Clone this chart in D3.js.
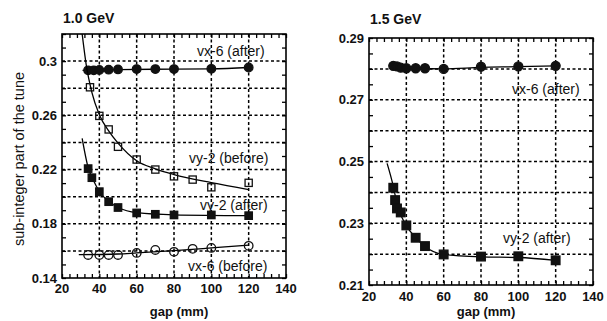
<!DOCTYPE html>
<html>
<head>
<meta charset="utf-8">
<script src="https://cdn.jsdelivr.net/npm/d3@7"></script>
<style>
  html, body { margin: 0; padding: 0; background: #fff; }
  svg { display: block; }
  text { font-family: "Liberation Sans", Arial, sans-serif; fill: #111; }
</style>
</head>
<body>
<svg id="chart" width="607" height="321"></svg>
<script>
// ---------- DATA ----------
const xTicks = [20, 40, 60, 80, 100, 120, 140];
const yTicksLeft = [0.14, 0.18, 0.22, 0.26, 0.3];
const yTicksRight = [0.21, 0.23, 0.25, 0.27, 0.29];
const titleLeft = "1.0 GeV";
const titleRight = "1.5 GeV";
const xLabel = "gap (mm)";
const yLabel = "sub-integer part of the tune";

// 1.0 GeV panel
const gapVx6AfterL = [34, 37, 40, 45, 50, 60, 70, 80, 100, 120];
const vx6AfterL = [0.2932, 0.2932, 0.2934, 0.2937, 0.2939, 0.2941, 0.2941, 0.2941, 0.2943, 0.2953];
const fitVx6AfterL = [[31, 0.2931], [50, 0.2937], [80, 0.2941], [100, 0.2943], [120, 0.2953]];

const gapVy2BeforeL = [35, 40, 45, 50, 60, 70, 80, 90, 100, 120];
const vy2BeforeL = [0.2807, 0.2596, 0.2496, 0.2368, 0.2274, 0.22, 0.215, 0.2126, 0.2069, 0.2102];
const fitVy2BeforeL = [[30.8, 0.32], [33, 0.297], [36, 0.277], [40, 0.2605], [45, 0.2485], [50, 0.2395], [60, 0.2265], [70, 0.2205], [80, 0.2163], [100, 0.2103], [120, 0.2052]];

const gapVy2AfterL = [34, 36, 40, 45, 50, 60, 70, 80, 100, 120];
const vy2AfterL = [0.2207, 0.214, 0.2037, 0.1963, 0.192, 0.188, 0.187, 0.1865, 0.1865, 0.186];
const fitVy2AfterL = [[30.8, 0.243], [34, 0.2215], [37, 0.2115], [40, 0.2038], [45, 0.1965], [50, 0.1922], [60, 0.1882], [80, 0.1866], [120, 0.186]];

const gapVx6BeforeL = [34, 40, 45, 50, 60, 70, 80, 90, 100, 120];
const vx6BeforeL = [0.157, 0.157, 0.157, 0.157, 0.1585, 0.1607, 0.1593, 0.1615, 0.1622, 0.1637];
const fitVx6BeforeL = [[29, 0.1572], [50, 0.1577], [60, 0.1585], [80, 0.1602], [100, 0.1622], [120, 0.1643]];

// 1.5 GeV panel
const gapVx6AfterR = [33, 35, 37, 40, 45, 50, 60, 80, 100, 120];
const vx6AfterR = [0.281, 0.2808, 0.2804, 0.2802, 0.2802, 0.2802, 0.28, 0.2807, 0.2808, 0.281];
const fitVx6AfterR = [[33, 0.2811], [37, 0.2803], [45, 0.2802], [60, 0.28], [80, 0.2805], [100, 0.2807], [120, 0.281]];

const gapVy2AfterR = [33, 34, 35, 37, 40, 45, 50, 60, 80, 100, 120];
const vy2AfterR = [0.2415, 0.2375, 0.2348, 0.2335, 0.2293, 0.2253, 0.2226, 0.2199, 0.2192, 0.2193, 0.218];
const fitVy2AfterR = [[29.7, 0.2494], [33, 0.242], [35, 0.2362], [40, 0.2292], [45, 0.2254], [50, 0.2225], [60, 0.2199], [80, 0.2191], [100, 0.2189], [120, 0.218]];

// ---------- DRAWING ----------
const svg = d3.select("#chart");

function panel(opt) {
  const x = d3.scaleLinear().domain([20, 140]).range([opt.left, opt.right]);
  const y = d3.scaleLinear().domain(opt.yDomain).range([opt.bottom, opt.top]);
  const g = svg.append("g");

  // grid
  const gx = xTicks.filter(v => v > 20 && v < 140);
  g.selectAll(".vg").data(gx).join("line")
    .attr("x1", d => x(d)).attr("x2", d => x(d))
    .attr("y1", opt.top).attr("y2", opt.bottom)
    .attr("stroke", "#000").attr("stroke-width", 1.5).attr("stroke-dasharray", "3,2.5");
  g.selectAll(".hg").data(opt.gridY).join("line")
    .attr("x1", opt.left).attr("x2", opt.right)
    .attr("y1", d => y(d)).attr("y2", d => y(d))
    .attr("stroke", "#000").attr("stroke-width", 1.5).attr("stroke-dasharray", "3,2.5");

  // axes with inward ticks
  const minorX = d3.range(20, 140.001, 4);
  const minorY = opt.minorY;
  const axB = d3.axisBottom(x).tickValues(minorX).tickSize(-4).tickFormat("");
  const axT = d3.axisTop(x).tickValues(minorX).tickSize(-4).tickFormat("");
  const axL = d3.axisLeft(y).tickValues(minorY).tickSize(-4).tickFormat("");
  const axR = d3.axisRight(y).tickValues(minorY).tickSize(-4).tickFormat("");
  [[axB, `translate(0,${opt.bottom})`], [axT, `translate(0,${opt.top})`],
   [axL, `translate(${opt.left},0)`], [axR, `translate(${opt.right},0)`]].forEach(([ax, tr]) => {
    const a = g.append("g").attr("transform", tr).call(ax);
    a.select(".domain").remove();
    a.selectAll("line").attr("stroke", "#000").attr("stroke-width", 1.3);
  });
  g.append("rect").attr("x", opt.left).attr("y", opt.top)
    .attr("width", opt.right - opt.left).attr("height", opt.bottom - opt.top)
    .attr("fill", "none").attr("stroke", "#000").attr("stroke-width", 1.6);

  // tick labels
  g.selectAll(".xl").data(xTicks).join("text")
    .attr("x", d => x(d)).attr("y", opt.bottom + opt.xlabOff)
    .attr("text-anchor", "middle").attr("font-size", 13).attr("font-weight", "bold")
    .text(d => d);
  g.selectAll(".yl").data(opt.yTicks).join("text")
    .attr("x", opt.left - 5).attr("y", d => y(d)).attr("dy", "0.36em")
    .attr("text-anchor", "end").attr("font-size", 13).attr("font-weight", "bold")
    .text(d => d3.format("")(d));

  // titles
  g.append("text").attr("x", opt.left + 1).attr("y", opt.titleY)
    .attr("font-size", 14).attr("font-weight", "bold").text(opt.title);
  g.append("text").attr("x", (opt.left + opt.right) / 2 + 5).attr("y", 316)
    .attr("text-anchor", "middle").attr("font-size", 13).attr("font-weight", "bold").text(xLabel);

  const line = d3.line().x(d => x(d[0])).y(d => y(d[1])).curve(d3.curveMonotoneX);
  const clipId = "clip" + opt.left;
  svg.append("clipPath").attr("id", clipId).append("rect")
    .attr("x", opt.left).attr("y", opt.top).attr("width", opt.right - opt.left).attr("height", opt.bottom - opt.top);
  const pg = g.append("g").attr("clip-path", `url(#${clipId})`);

  opt.series.forEach(s => {
    pg.append("path").datum(s.fit).attr("d", line)
      .attr("fill", "none").attr("stroke", "#000").attr("stroke-width", 1.3);
    const pts = s.gap.map((gv, i) => [gv, s.val[i]]);
    if (s.shape === "circle") {
      pg.selectAll(null).data(pts).join("circle")
        .attr("cx", d => x(d[0])).attr("cy", d => y(d[1])).attr("r", s.size)
        .attr("fill", s.filled ? "#111" : "none")
        .attr("stroke", "#111").attr("stroke-width", 1.3);
    } else {
      pg.selectAll(null).data(pts).join("rect")
        .attr("x", d => x(d[0]) - s.size).attr("y", d => y(d[1]) - s.size)
        .attr("width", 2 * s.size).attr("height", 2 * s.size)
        .attr("fill", s.filled ? "#111" : "none")
        .attr("stroke", "#111").attr("stroke-width", 1.3);
    }
    g.append("text").attr("x", s.lx).attr("y", s.ly)
      .attr("font-size", 14).text(s.label);
  });
}

panel({
  left: 62, right: 286, top: 34, bottom: 278,
  yDomain: [0.14, 0.32],
  yTicks: yTicksLeft,
  gridY: [0.16, 0.18, 0.2, 0.22, 0.24, 0.26, 0.28, 0.3],
  minorY: d3.range(0.14, 0.3201, 0.01),
  title: titleLeft, titleY: 23, xlabOff: 15,
  series: [
    { gap: gapVx6AfterL, val: vx6AfterL, fit: fitVx6AfterL, shape: "circle", filled: true, size: 4.3, label: "vx-6 (after)", lx: 197, ly: 56 },
    { gap: gapVy2BeforeL, val: vy2BeforeL, fit: fitVy2BeforeL, shape: "square", filled: false, size: 3.6, label: "vy-2 (before)", lx: 189, ly: 163 },
    { gap: gapVy2AfterL, val: vy2AfterL, fit: fitVy2AfterL, shape: "square", filled: true, size: 3.7, label: "vy-2 (after)", lx: 200, ly: 210 },
    { gap: gapVx6BeforeL, val: vx6BeforeL, fit: fitVx6BeforeL, shape: "circle", filled: false, size: 4.3, label: "vx-6 (before)", lx: 188, ly: 271 }
  ]
});

panel({
  left: 369, right: 593, top: 38, bottom: 285,
  yDomain: [0.21, 0.29],
  yTicks: yTicksRight,
  gridY: [0.22, 0.23, 0.24, 0.25, 0.26, 0.27, 0.28],
  minorY: d3.range(0.21, 0.29001, 0.005),
  title: titleRight, titleY: 24, xlabOff: 16,
  series: [
    { gap: gapVx6AfterR, val: vx6AfterR, fit: fitVx6AfterR, shape: "circle", filled: true, size: 4.5, label: "vx-6 (after)", lx: 512, ly: 94 },
    { gap: gapVy2AfterR, val: vy2AfterR, fit: fitVy2AfterR, shape: "square", filled: true, size: 4.3, label: "vy-2 (after)", lx: 503, ly: 243 }
  ]
});

// shared y-axis label
svg.append("text")
  .attr("transform", "translate(24,159) rotate(-90)")
  .attr("text-anchor", "middle").attr("font-size", 14.5).text(yLabel);
</script>
</body>
</html>
